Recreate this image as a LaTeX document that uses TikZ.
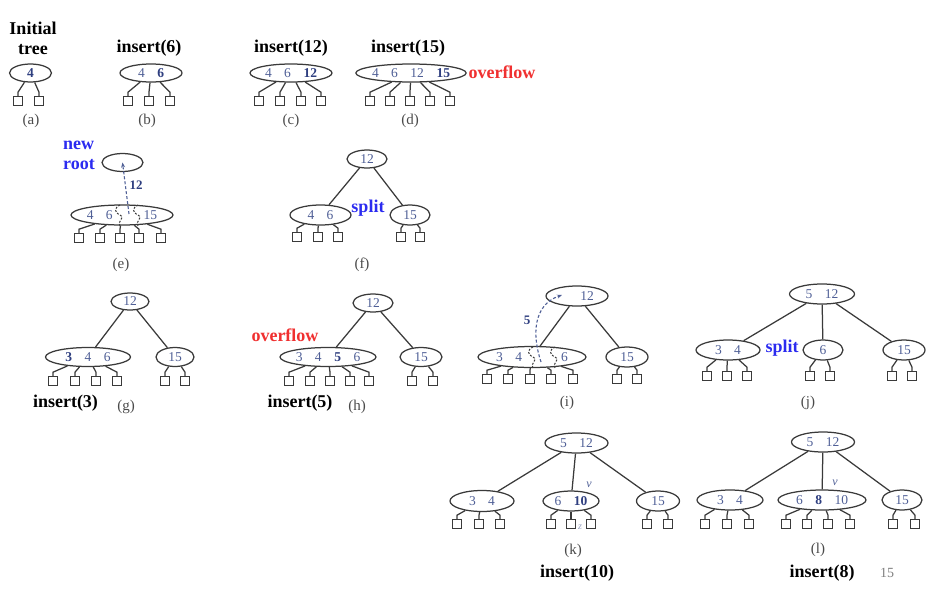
\documentclass[tikz,border=0pt]{standalone}
\usepackage{fontspec}
\setmainfont{Liberation Serif}
\usetikzlibrary{shapes.geometric,arrows.meta}
\definecolor{lc}{HTML}{3A3A3A}
\definecolor{kc}{HTML}{4F5F96}
\definecolor{kbc}{HTML}{2F3F80}
\definecolor{subc}{HTML}{4A4A4A}
\definecolor{blu}{HTML}{2B2BF0}
\definecolor{red1}{HTML}{F03030}
\newcommand\kgap{\hspace{12.5pt}}
\newcommand\kb[1]{\textcolor{kbc}{\bfseries #1}}
\tikzset{
  key/.style={ellipse, draw=lc, line width=1.25pt, inner sep=0pt, text=kc, font=\fontsize{13.5}{13.5}\selectfont},
  leaf/.style={rectangle, draw=lc, line width=1.1pt, minimum size=8.5pt, inner sep=0pt},
  edge/.style={draw=lc, line width=1.25pt},
  lab/.style={inner sep=0pt, font=\fontsize{18}{20}\selectfont\bfseries, text=black},
  sub/.style={inner sep=0pt, font=\fontsize{15}{15}\selectfont, text=subc},
  bl/.style={inner sep=0pt, font=\fontsize{18}{20}\selectfont\bfseries, text=blu},
  rd/.style={inner sep=0pt, font=\fontsize{18}{20}\selectfont\bfseries, text=red1},
  upk/.style={inner sep=0pt, font=\fontsize{13}{13}\selectfont\bfseries, text=kbc},
  sq/.style={draw=lc, line width=1pt, dash pattern=on 2pt off 1.5pt},
  darr/.style={draw=kc, line width=1.1pt, dash pattern=on 3pt off 2pt, -{Stealth[length=5pt,width=4pt]}},
}
\newcommand\leafrow[3]{%
  \foreach \lx [count=\li] in {#3} {
    \node[leaf] (#1l\li) at (\lx,#2) {};
    \draw[edge] (#1l\li.north) -- ++(0,-4) -- (#1);
  }}
\newcommand\squig[2]{\draw[sq] (#1,#2) .. controls +(-6,3) and +(-6,-3) .. ++(0,10) .. controls +(6,3) and +(-4,-4) .. ++(0,11);}
\begin{document}
\begin{tikzpicture}[x=1pt,y=-1pt]
\useasboundingbox (0,0) rectangle (938,600);
% ---------- row 1 ----------
\node[lab, align=center] (tInit) at (33,38) {Initial\\tree};
\node[key, minimum width=42pt, minimum height=18pt] (aR) at (30.5,73) {\kb{4}};
\leafrow{aR}{101}{18,39}
\node[sub] (aL) at (31,121) {(a)};

\node[lab] (tB) at (149,48) {insert(6)};
\node[key, minimum width=62pt, minimum height=18pt] (bR) at (151,73) {4\kgap\kb{6}};
\leafrow{bR}{101}{128,149,170}
\node[sub] (bL) at (147,121) {(b)};

\node[lab] (tC) at (291,48) {insert(12)};
\node[key, minimum width=82pt, minimum height=18pt] (cR) at (291,73) {4\kgap 6\kgap\kb{12}};
\leafrow{cR}{101}{259,280,301,321}
\node[sub] (cL) at (291,121) {(c)};

\node[lab] (tD) at (408,48) {insert(15)};
\node[key, minimum width=102pt, minimum height=18pt] (dR) at (411,73) {4\kgap 6\kgap 12\kgap\kb{15}};
\leafrow{dR}{101}{370,390,410,430,450}
\node[rd] (dO) at (502,72) {overflow};
\node[sub] (dL) at (410,121) {(d)};
% ---------- row 2 ----------
\node[bl, align=left] (eN) at (79,155) {new\\root};
\node[key, minimum width=41pt, minimum height=18pt] (eT) at (122.5,162.5) {};
\node[key, minimum width=102pt, minimum height=20pt] (eR) at (122,215) {4\kgap 6\hspace{31pt}15};
\leafrow{eR}{238}{79,100,120,139,161}
\squig{120}{205}
\squig{138}{205}
\coordinate (eA) at (129,214);
\draw[darr] (eA) -- (eT.center);
\node[upk] (e12) at (136,185) {12};
\node[sub] (eL) at (121,265) {(e)};

\node[key, minimum width=40pt, minimum height=18pt] (fT) at (367,159) {12};
\node[key, minimum width=61pt, minimum height=20pt] (fA) at (320.5,215) {4\kgap 6};
\node[key, minimum width=40pt, minimum height=20pt] (fB) at (410,215) {15};
\draw[edge] (fT) -- (fA);
\draw[edge] (fT) -- (fB);
\leafrow{fA}{237}{297,318,338}
\leafrow{fB}{237}{401,420}
\node[bl] (fS) at (368,208) {split};
\node[sub] (fL) at (362,265) {(f)};
% ---------- row 3 ----------
\node[key, minimum width=38pt, minimum height=17pt] (gT) at (130,301.5) {12};
\node[key, minimum width=85pt, minimum height=19pt] (gA) at (88,357) {\kb{3}\kgap 4\kgap 6};
\node[key, minimum width=38pt, minimum height=19pt] (gB) at (175,357) {15};
\draw[edge] (gT) -- (gA);
\draw[edge] (gT) -- (gB);
\leafrow{gA}{381}{53,75,96,117}
\leafrow{gB}{381}{165,185}
\node[lab] (gI) at (65.5,403) {insert(3)};
\node[sub] (gL) at (126,407) {(g)};

\node[key, minimum width=40pt, minimum height=18pt] (hT) at (373,303) {12};
\node[key, minimum width=96pt, minimum height=19pt] (hA) at (328,357) {3\kgap 4\kgap\kb{5}\kgap 6};
\node[key, minimum width=42pt, minimum height=19pt] (hB) at (421,357) {15};
\draw[edge] (hT) -- (hA);
\draw[edge] (hT) -- (hB);
\leafrow{hA}{381}{289,310,330,350,369}
\leafrow{hB}{381}{412,433}
\node[rd] (hO) at (285,335) {overflow};
\node[lab] (hI) at (300,403) {insert(5)};
\node[sub] (hL) at (357,407) {(h)};

\node[key, minimum width=62pt, minimum height=20pt] (iT) at (577,296) {\hspace{20pt}12};
\node[key, minimum width=108pt, minimum height=21pt] (iA) at (532,357) {3\kgap 4\hspace{39pt}6};
\node[key, minimum width=42pt, minimum height=20pt] (iB) at (627,357) {15};
\draw[edge] (iT) -- (iA);
\draw[edge] (iT) -- (iB);
\leafrow{iA}{379}{487,508,530,551,573}
\leafrow{iB}{379}{617,637}
\squig{533}{347}
\squig{555}{347}
\coordinate (iS) at (541,362);
\coordinate (iE) at (562,295);
\draw[darr] (iS) .. controls (532,335) and (533,305) .. (iE);
\node[upk] (i5) at (527,320) {5};
\node[sub] (iL) at (567,403) {(i)};

\node[key, minimum width=65pt, minimum height=20pt] (jT) at (822,294) {5\kgap 12};
\node[key, minimum width=64pt, minimum height=20pt] (jA) at (728,350) {3\kgap 4};
\node[key, minimum width=40pt, minimum height=20pt] (jB) at (823,350) {6};
\node[key, minimum width=42pt, minimum height=20pt] (jC) at (904,350) {15};
\draw[edge] (jT) -- (jA);
\draw[edge] (jT) -- (jB);
\draw[edge] (jT) -- (jC);
\leafrow{jA}{376}{707,727,747}
\leafrow{jB}{376}{810,830}
\leafrow{jC}{376}{892,912}
\node[bl] (jS) at (782,348) {split};
\node[sub] (jL) at (808,403) {(j)};
% ---------- row 4 ----------
\node[key, minimum width=63pt, minimum height=20pt] (kT) at (576.5,443) {5\kgap 12};
\node[key, minimum width=64pt, minimum height=21pt] (kA) at (482,501) {3\kgap 4};
\node[key, minimum width=56pt, minimum height=20pt] (kB) at (571,501) {6\kgap\kb{10}};
\node[key, minimum width=43pt, minimum height=20pt] (kC) at (658,501) {15};
\draw[edge] (kT) -- (kA);
\draw[edge] (kT) -- (kB);
\draw[edge] (kT) -- (kC);
\leafrow{kA}{524}{457,479,500}
\leafrow{kB}{524}{551,571,591}
\leafrow{kC}{524}{647,668}
\node[inner sep=0pt, font=\fontsize{12}{12}\selectfont\itshape, text=kc] (kv) at (589,485) {v};
\node[inner sep=0pt, font=\fontsize{10}{10}\selectfont\itshape, text=kc!60] (kz) at (580,527) {z};
\node[sub] (kL) at (573,551) {(k)};
\node[lab] (kI) at (577,573) {insert(10)};

\node[key, minimum width=63pt, minimum height=20pt] (lT) at (823,442) {5\kgap 12};
\node[key, minimum width=66pt, minimum height=20pt] (lA) at (730,500) {3\kgap 4};
\node[key, minimum width=88pt, minimum height=20pt] (lB) at (822,500) {6\kgap\kb{8}\kgap 10};
\node[key, minimum width=40pt, minimum height=20pt] (lC) at (902,500) {15};
\draw[edge] (lT) -- (lA);
\draw[edge] (lT) -- (lB);
\draw[edge] (lT) -- (lC);
\leafrow{lA}{524}{705,727,749}
\leafrow{lB}{524}{786,807,828,850}
\leafrow{lC}{524}{893,915}
\node[inner sep=0pt, font=\fontsize{12}{12}\selectfont\itshape, text=kc] (lv) at (835,483) {v};
\node[sub] (lL) at (818,550) {(l)};
\node[lab] (lI) at (822,573) {insert(8)};
\node[inner sep=0pt, font=\fontsize{14}{14}\selectfont, text=gray] (pg) at (887,573) {15};
\end{tikzpicture}
\end{document}
